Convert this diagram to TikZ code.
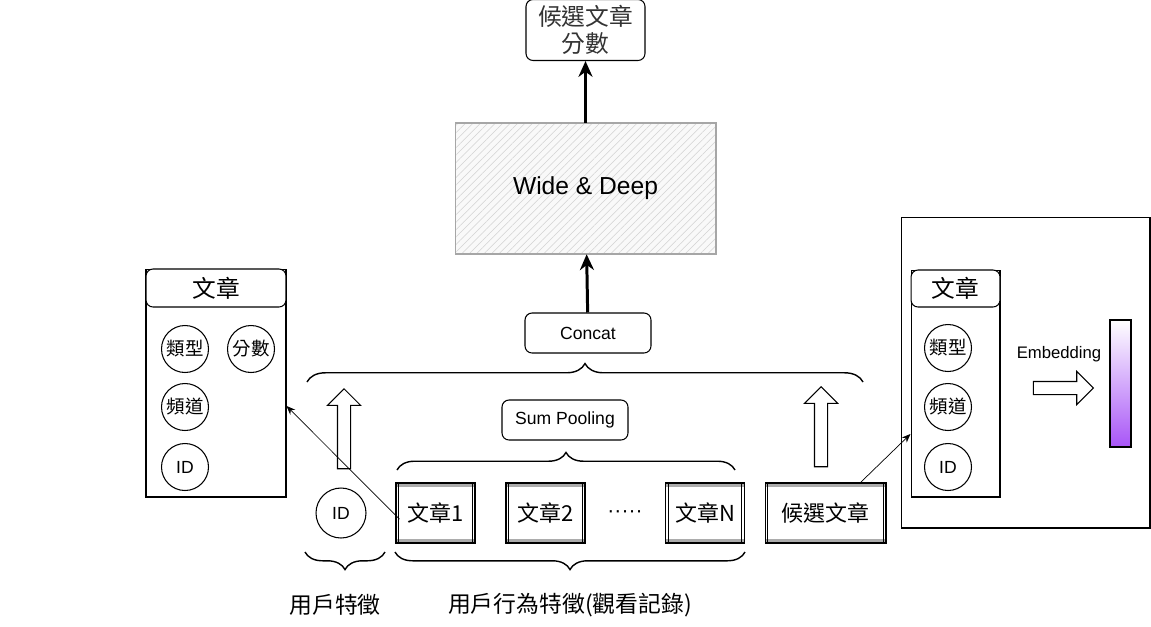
\documentclass[tikz,border=0pt]{standalone}
\usepackage{fontspec}
\setmainfont{Liberation Sans}
\newfontfamily\cjk{Noto Sans CJK TC}
\usetikzlibrary{shapes.arrows,decorations.pathreplacing,patterns.meta,arrows.meta}
\definecolor{embpurple}{RGB}{168,85,247}

\begin{document}
\begin{tikzpicture}[x=0.02cm,y=-0.02cm,line width=0.6pt,
    box/.style={draw, fill=white, rounded corners=4pt, inner sep=0pt},
    ball/.style={circle, draw, minimum size=0.94cm, inner sep=0pt, font=\cjk\fontsize{10.5}{12}\selectfont},
    docbox/.style={draw, minimum width=1.58cm, minimum height=1.2cm, inner sep=0pt,
        font=\cjk\fontsize{12.5}{15}\selectfont,
        path picture={
            \fill[gray!65] (path picture bounding box.north west) rectangle ([yshift=-2pt]path picture bounding box.north east);
            \fill[gray!65] (path picture bounding box.south west) rectangle ([yshift=2pt]path picture bounding box.south east);
            \draw[line width=0.4pt] ([xshift=1.6pt]path picture bounding box.north west) -- ([xshift=1.6pt]path picture bounding box.south west);
            \draw[line width=0.4pt] ([xshift=-1.6pt]path picture bounding box.north east) -- ([xshift=-1.6pt]path picture bounding box.south east);
        }},
    hollow/.style={single arrow, draw, fill=white, inner sep=0.12cm, minimum width=0.64cm, single arrow head extend=0.2cm},
    bigarrow/.style={line width=1.7pt, -{Stealth[length=9pt,width=8pt]}},
    ptr/.style={line width=0.4pt, -{Stealth[length=5pt,width=4pt]}},
    curly/.style={decorate, decoration={brace, amplitude=#1}, line width=0.8pt}]

        \useasboundingbox (0,0) rectangle (1151,626);

        \node[box, minimum width=2.38cm, minimum height=1.22cm, align=center, text=black!80,
            font=\cjk\fontsize{13.5}{15.5}\selectfont] (score) at (585.5,30) {候選文章\\分數};
        \node[draw=gray!70, minimum width=5.22cm, minimum height=2.62cm, preaction={fill=gray!5},
            pattern={Lines[angle=45,distance=3pt,line width=0.3pt]}, pattern color=gray!35,
            font=\fontsize{14}{17}\selectfont] (wd) at (585.5,188.5) {Wide \& Deep};
        \node[box, minimum width=2.52cm, minimum height=0.8cm, font=\fontsize{10}{12}\selectfont] (concat) at (588,333) {Concat};
        \node[box, minimum width=2.52cm, minimum height=0.8cm, font=\fontsize{10}{12}\selectfont] (pool) at (565,420) {Sum Pooling};

        \draw[bigarrow] (concat) -- (wd);
        \draw[bigarrow] (wd) -- (score);

        \node[draw, minimum width=2.8cm, minimum height=4.56cm] (panelL) at (216,383) {};
        \node[box, minimum width=2.8cm, minimum height=0.76cm, font=\cjk\fontsize{13.5}{16}\selectfont] (headL) at (216,288) {文章};
        \node[ball] (typeL) at (185,349) {類型};
        \node[ball] (scoreL) at (251,349) {分數};
        \node[ball] (chanL) at (185,407) {頻道};
        \node[ball, font=\fontsize{10}{12}\selectfont] (idL) at (185,467) {ID};

        \node[hollow, rotate=90, minimum height=1.6cm] (upL) at (344,432) {};
        \node[hollow, rotate=90, minimum height=1.6cm] (upR) at (821,430) {};

        \node[circle, draw, minimum size=1.0cm, inner sep=0pt, font=\fontsize{10}{12}\selectfont] (user) at (341,513) {ID};
        \node[docbox] (doc1) at (435.5,513) {文章1};
        \node[docbox] (doc2) at (545.5,513) {文章2};
        \node[font=\fontsize{12}{14}\selectfont] (dots) at (625,514) {·····};
        \node[docbox] (docN) at (705,513) {文章N};
        \node[docbox, minimum width=2.42cm] (cand) at (825.5,513) {候選文章};

        \node[draw, minimum width=4.98cm, minimum height=6.22cm] (frame) at (1025.5,372.5) {};
        \node[draw, minimum width=1.78cm, minimum height=4.54cm] (panelR) at (955.5,383.5) {};
        \node[box, minimum width=1.78cm, minimum height=0.74cm, font=\cjk\fontsize{13.5}{16}\selectfont] (headR) at (955.5,288.5) {文章};
        \node[ball] (typeR) at (948,348) {類型};
        \node[ball] (chanR) at (948,407) {頻道};
        \node[ball, font=\fontsize{10}{12}\selectfont] (idR) at (948,467) {ID};
        \node[font=\fontsize{9.5}{11}\selectfont] (embtxt) at (1059,354) {Embedding};
        \node[hollow, minimum height=1.2cm, minimum width=0.66cm] (toVec) at (1060,388) {};
        \node[draw, minimum width=0.42cm, minimum height=2.54cm, top color=white, bottom color=embpurple] (vec) at (1120.5,383.5) {};

        \draw[ptr] ([xshift=0.08cm,yshift=-0.12cm]doc1.west) -- ([yshift=-0.46cm]panelL.east);
        \draw[ptr] ([xshift=-0.52cm]cand.north east) -- ([yshift=-1.01cm]panelR.west);

        \draw[curly=10.5pt] (307,382) -- (863,382);
        \draw[curly=10pt] (397,470) -- (735,470);
        \draw[curly=10pt] (385,552) -- (305,552);
        \draw[curly=10pt] (745,552) -- (395,552);

        \node[font=\cjk\fontsize{13}{15}\selectfont] (userTxt) at (335,605) {用戶特徵};
        \node[font=\cjk\fontsize{13}{15}\selectfont] (behTxt) at (570,605) {用戶行為特徵(觀看記錄)};

    \end{tikzpicture}
\end{document}
